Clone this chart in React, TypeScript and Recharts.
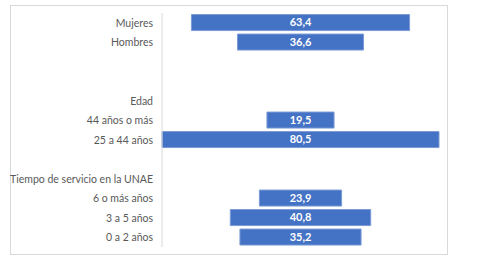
import { BarChart, Bar, XAxis, YAxis, LabelList } from 'recharts';

const categories = [
  'Mujeres',
  'Hombres',
  '',
  '',
  'Edad',
  '44 años o más',
  '25 a 44 años',
  '',
  'Tiempo de servicio en la UNAE',
  '6 o más años',
  '3 a 5 años',
  '0 a 2 años',
];
const values: (number | null)[] = [63.4, 36.6, null, null, null, 19.5, 80.5, null, null, 23.9, 40.8, 35.2];

const maxValue = 80.5;

const data = categories.map((name, i) => {
  const v = values[i];
  return {
    key: i,
    name,
    offset: v == null ? null : (maxValue - v) / 2,
    value: v,
  };
});

const fmt = (v: any) => (v == null ? '' : Number(v).toFixed(1).replace('.', ','));
const font = 'Lato, "Open Sans", sans-serif';

function CategoryTick({ x, y, payload }: any) {
  return (
    <text x={x - 1} y={y} dy={4} textAnchor="end" fontSize={10.5} fill="#595959" fontFamily={font}>
      {categories[payload.value]}
    </text>
  );
}

export default function App() {
  return (
    <div style={{ position: 'absolute', left: 0, top: 0, width: 479, height: 266, background: '#fff' }}>
      <div
        style={{
          position: 'absolute',
          left: 10,
          top: 5,
          width: 436,
          height: 248,
          border: '1px solid #d9d9d9',
        }}
      />
      <div style={{ position: 'absolute', left: 0, top: 0 }}>
        <BarChart
          width={479}
          height={266}
          data={data}
          layout="vertical"
          margin={{ top: 13, right: 40, bottom: 19, left: 0 }}
          barCategoryGap="8%"
        >
          <XAxis type="number" hide domain={[0, maxValue]} />
          <YAxis
            type="category"
            dataKey="key"
            width={162}
            tickLine={false}
            axisLine={{ stroke: '#d9d9d9' }}
            interval={0}
            tick={<CategoryTick />}
          />
          <Bar dataKey="offset" stackId="a" fill="transparent" isAnimationActive={false} />
          <Bar dataKey="value" stackId="a" fill="#4472C4" stroke="#7b9bd6" strokeWidth={1} isAnimationActive={false}>
            <LabelList
              dataKey="value"
              position="center"
              formatter={fmt}
              fill="#ffffff"
              style={{ fontSize: 11, fontWeight: 700, fontFamily: font }}
            />
          </Bar>
        </BarChart>
      </div>
    </div>
  );
}
